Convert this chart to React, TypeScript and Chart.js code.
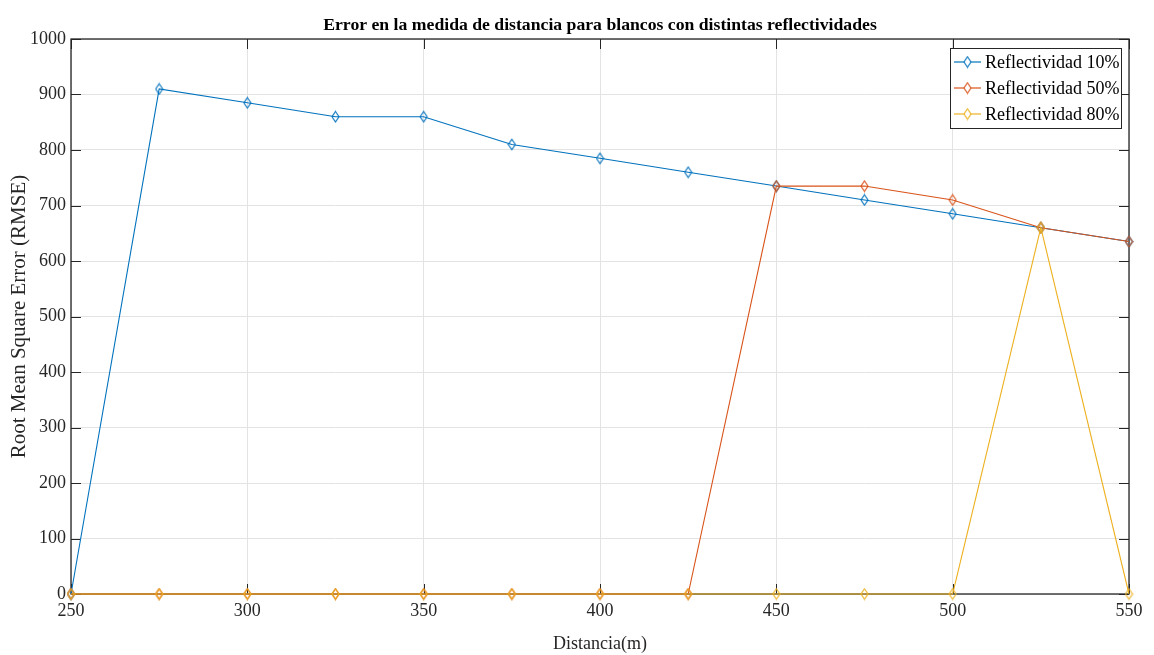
import React, { useEffect, useRef } from 'react';
import { Chart, registerables } from 'chart.js';

Chart.register(...registerables);

const distances = [250, 275, 300, 325, 350, 375, 400, 425, 450, 475, 500, 525, 550];
const refl10 = [0, 910, 885, 860, 860, 810, 785, 760, 735, 710, 685, 660, 635];
const refl50 = [0, 0, 0, 0, 0, 0, 0, 0, 735, 735, 710, 660, 635];
const refl80 = [0, 0, 0, 0, 0, 0, 0, 0, 0, 0, 0, 660, 0];
const seriesLabels = ['Reflectividad 10%', 'Reflectividad 50%', 'Reflectividad 80%'];
const seriesColors = ['#0072BD', '#D95319', '#EDB120'];
const xTickValues = [250, 300, 350, 400, 450, 500, 550];
const yTickValues = [0, 100, 200, 300, 400, 500, 600, 700, 800, 900, 1000];
const titleText = 'Error en la medida de distancia para blancos con distintas reflectividades';
const xTitle = 'Distancia(m)';
const yTitle = 'Root Mean Square Error (RMSE)';

const FONT = "'Liberation Serif', 'Times New Roman', serif";

function makeDiamond(color: string): HTMLCanvasElement {
  const c = document.createElement('canvas');
  c.width = 9;
  c.height = 13;
  const ctx = c.getContext('2d')!;
  ctx.strokeStyle = color;
  ctx.lineWidth = 1.1;
  ctx.beginPath();
  ctx.moveTo(4.5, 1.2);
  ctx.lineTo(8, 6.5);
  ctx.lineTo(4.5, 11.8);
  ctx.lineTo(1, 6.5);
  ctx.closePath();
  ctx.stroke();
  return c;
}

const boxTicksPlugin = {
  id: 'boxTicks',
  beforeDatasetsDraw(chart: any) {
    const { ctx, chartArea, scales } = chart;
    const { left, right, top, bottom } = chartArea;
    ctx.save();
    ctx.strokeStyle = '#262626';
    ctx.lineWidth = 1;
    ctx.beginPath();
    for (const v of xTickValues) {
      const x = Math.round(scales.x.getPixelForValue(v)) + 0.5;
      ctx.moveTo(x, bottom);
      ctx.lineTo(x, bottom - 10);
      ctx.moveTo(x, top);
      ctx.lineTo(x, top + 10);
    }
    for (const v of yTickValues) {
      const y = Math.round(scales.y.getPixelForValue(v)) + 0.5;
      ctx.moveTo(left, y);
      ctx.lineTo(left + 10, y);
      ctx.moveTo(right, y);
      ctx.lineTo(right - 10, y);
    }
    ctx.stroke();
    ctx.lineWidth = 1.3;
    ctx.strokeRect(left, top, right - left, bottom - top);
    ctx.restore();
  },
};

const titlePlugin = {
  id: 'centeredTitle',
  afterDraw(chart: any) {
    const { ctx, chartArea } = chart;
    ctx.save();
    ctx.font = `bold 17.7px ${FONT}`;
    ctx.fillStyle = '#000';
    ctx.textAlign = 'center';
    ctx.textBaseline = 'middle';
    ctx.fillText(titleText, (chartArea.left + chartArea.right) / 2, 25);
    ctx.restore();
  },
};

const insideLegendPlugin = {
  id: 'insideLegend',
  afterDraw(chart: any) {
    const { ctx, chartArea } = chart;
    const boxRight = chartArea.right - 8;
    const boxTop = chartArea.top + 9;
    const boxW = 171;
    const boxH = 80;
    const boxLeft = boxRight - boxW;
    ctx.save();
    ctx.fillStyle = '#ffffff';
    ctx.fillRect(boxLeft, boxTop, boxW, boxH);
    ctx.strokeStyle = '#262626';
    ctx.lineWidth = 1;
    ctx.strokeRect(boxLeft + 0.5, boxTop + 0.5, boxW, boxH);
    ctx.font = `18px ${FONT}`;
    ctx.textBaseline = 'middle';
    ctx.textAlign = 'left';
    chart.data.datasets.forEach((ds: any, i: number) => {
      const y = boxTop + 14 + i * 26;
      ctx.strokeStyle = ds.borderColor;
      ctx.lineWidth = 1.2;
      ctx.beginPath();
      ctx.moveTo(boxLeft + 4, y);
      ctx.lineTo(boxLeft + 31, y);
      ctx.stroke();
      ctx.fillStyle = '#fff';
      ctx.fillRect(boxLeft + 14, y - 5, 7, 10);
      ctx.drawImage(ds.pointStyle, boxLeft + 17.5 - 4.5, y - 6.5);
      ctx.fillStyle = '#000';
      ctx.fillText(ds.label, boxLeft + 35, y + 1);
    });
    ctx.restore();
  },
};

export default function App() {
  const canvasRef = useRef<HTMLCanvasElement | null>(null);

  useEffect(() => {
    if (!canvasRef.current) return;
    const allSeries = [refl10, refl50, refl80];
    const datasets = allSeries.map((vals, i) => ({
      label: seriesLabels[i],
      data: distances.map((d, j) => ({ x: d, y: vals[j] })),
      borderColor: seriesColors[i],
      backgroundColor: 'transparent',
      borderWidth: 1.1,
      pointStyle: makeDiamond(seriesColors[i]) as any,
      pointRadius: 6,
      pointHoverRadius: 6,
      tension: 0,
      fill: false,
      clip: 12,
      order: 2 - i,
    }));

    const chart = new Chart(canvasRef.current, {
      type: 'line',
      data: { datasets },
      options: {
        animation: false,
        responsive: false,
        maintainAspectRatio: false,
        layout: { padding: { left: 0, right: 25, top: 39, bottom: 0 } },
        plugins: {
          legend: { display: false },
          tooltip: { enabled: false },
          title: { display: false },
        },
        scales: {
          x: {
            type: 'linear',
            min: 250,
            max: 550,
            afterBuildTicks: (scale: any) => {
              scale.ticks = xTickValues.map((v) => ({ value: v }));
            },
            afterFit: (scale: any) => {
              scale.height = 61;
            },
            grid: { color: '#e3e3e3', drawTicks: false, lineWidth: 1 },
            border: { display: false },
            ticks: {
              color: '#262626',
              font: { family: FONT, size: 18 },
              padding: 6,
              maxRotation: 0,
              callback: (v: any) => String(v),
            },
            title: {
              display: true,
              text: xTitle,
              color: '#262626',
              font: { family: FONT, size: 18 },
              padding: { top: 4, bottom: 0 },
            },
          },
          y: {
            type: 'linear',
            min: 0,
            max: 1000,
            afterBuildTicks: (scale: any) => {
              scale.ticks = yTickValues.map((v) => ({ value: v }));
            },
            afterFit: (scale: any) => {
              scale.width = 71;
            },
            grid: { color: '#e3e3e3', drawTicks: false, lineWidth: 1 },
            border: { display: false },
            ticks: {
              color: '#262626',
              font: { family: FONT, size: 18 },
              padding: 5,
              callback: (v: any) => String(v),
            },
            title: {
              display: true,
              text: yTitle,
              color: '#262626',
              font: { family: FONT, size: 21 },
              padding: { top: 7, bottom: 4 },
            },
          },
        },
      },
      plugins: [boxTicksPlugin, titlePlugin, insideLegendPlugin],
    });

    return () => {
      chart.destroy();
    };
  }, []);

  return (
    <div style={{ position: 'fixed', left: 0, top: 0, width: 1154, height: 655, background: '#fff' }}>
      <canvas ref={canvasRef} width={1154} height={655} style={{ width: 1154, height: 655, display: 'block' }} />
    </div>
  );
}
